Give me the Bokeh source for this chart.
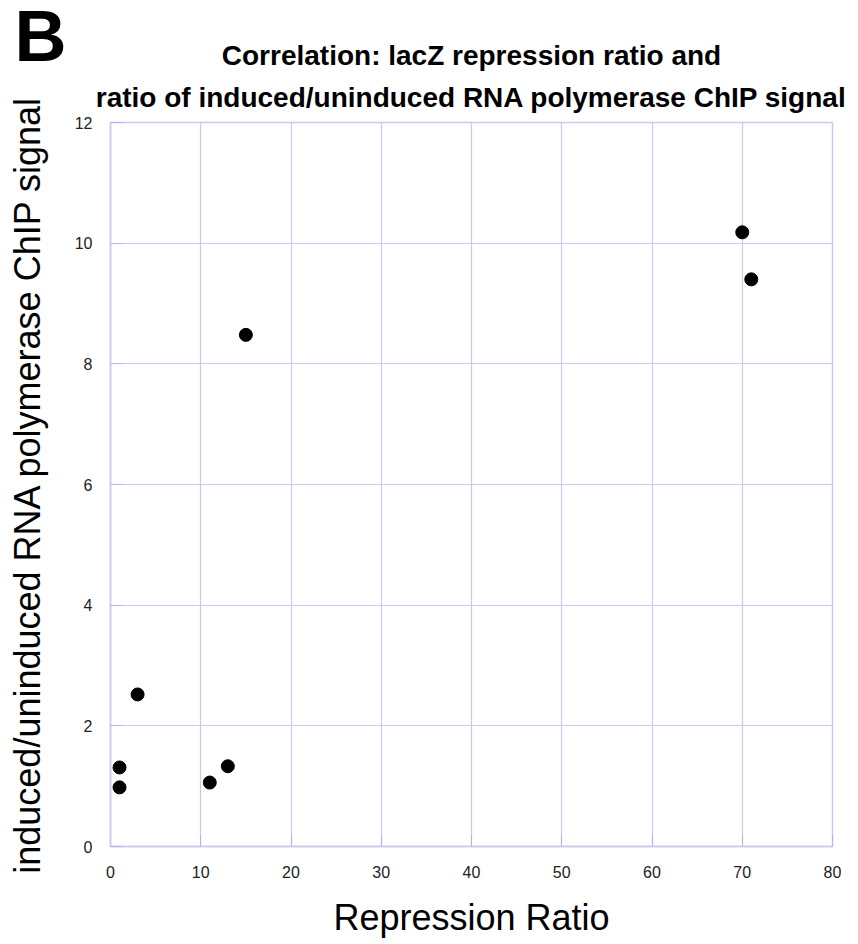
from bokeh.plotting import figure
from bokeh.models import Range1d, FixedTicker, Title
from bokeh.embed import file_html
from bokeh.resources import INLINE

repression_ratio = [1, 1, 3, 11, 13, 15, 70, 71]
chip_ratio = [1.31, 0.98, 2.52, 1.06, 1.33, 8.48, 10.18, 9.40]
x_ticks = [0, 10, 20, 30, 40, 50, 60, 70, 80]
y_ticks = [0, 2, 4, 6, 8, 10, 12]
title_lines = ["Correlation: lacZ repression ratio and",
               "ratio of induced/uninduced RNA polymerase ChIP signal"]

FONT = "Liberation Sans"
GRID = "#c7cbf0"

p = figure(width=858, height=944, output_backend="svg", toolbar_location=None,
           title=None,
           x_range=Range1d(0, 80), y_range=Range1d(0, 12),
           min_border_left=110, min_border_right=26, min_border_top=122, min_border_bottom=98)

p.outline_line_color = GRID
p.outline_line_width = 1.5

for ax in (p.xaxis[0], p.yaxis[0]):
    ax.axis_line_color = GRID
    ax.axis_line_width = 1.5
    ax.major_tick_in = 12
    ax.major_tick_out = 0
    ax.major_tick_line_color = "#b0b6e8"
    ax.minor_tick_line_color = None
    ax.major_label_text_font = FONT
    ax.major_label_text_font_size = "16px"
    ax.major_label_text_color = "#222222"
    ax.axis_label_text_font = FONT
    ax.axis_label_text_font_size = "36px"
    ax.axis_label_text_font_style = "normal"
    ax.axis_label_text_color = "black"

p.xaxis.ticker = FixedTicker(ticks=x_ticks)
p.yaxis.ticker = FixedTicker(ticks=y_ticks)
p.xaxis.axis_label = "Repression Ratio"
p.yaxis.axis_label = "induced/uninduced RNA polymerase ChIP signal"
p.xaxis.major_label_standoff = 19
p.yaxis.major_label_standoff = 18
p.xaxis.axis_label_standoff = 16
p.yaxis.axis_label_standoff = 24

p.xgrid.grid_line_color = GRID
p.ygrid.grid_line_color = GRID
p.xgrid.grid_line_width = 1.2
p.ygrid.grid_line_width = 1.2

p.scatter(repression_ratio, chip_ratio, size=13, color="black")

def make_title(text, size, align, standoff, offset=0):
    t = Title(text=text, text_font=FONT, text_font_size=size, text_font_style="bold",
              text_color="black", align=align, standoff=standoff, offset=offset)
    p.add_layout(t, "above")

make_title(title_lines[1], "28px", "center", 20)
make_title(title_lines[0], "28px", "center", -3)
make_title("B", "72px", "left", -72, offset=-96)

open("out.html", "w").write(file_html(p, INLINE))
